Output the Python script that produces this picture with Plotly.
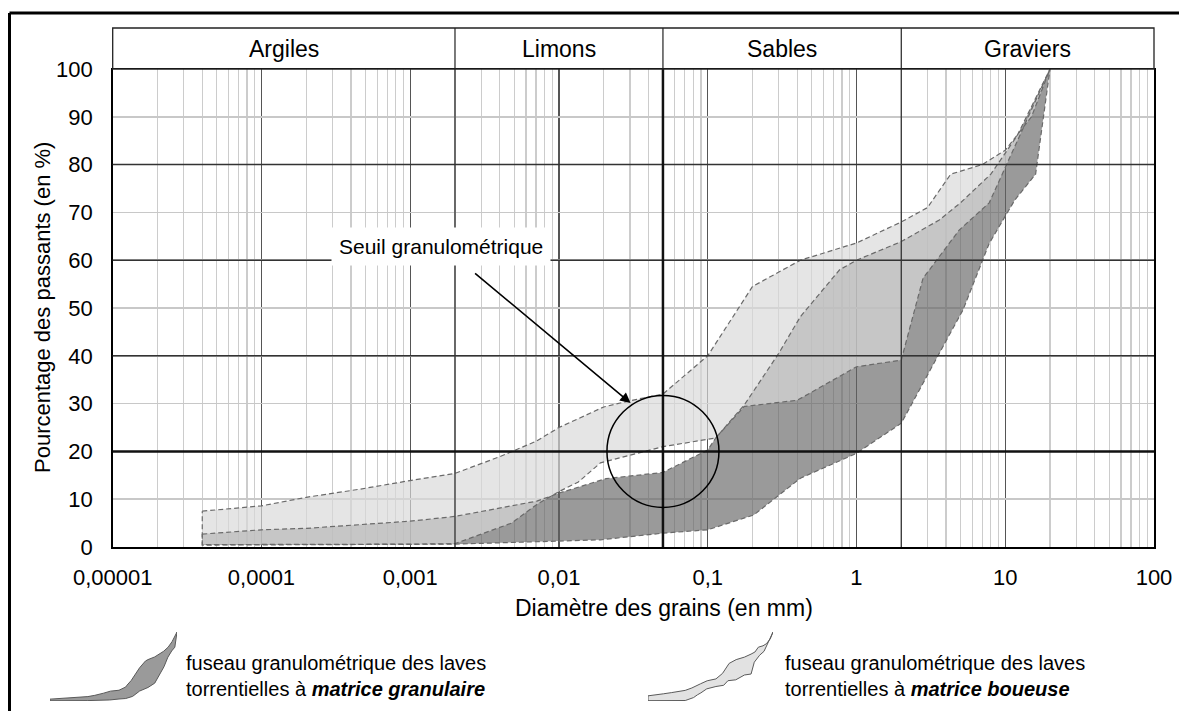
import math
import plotly.graph_objects as go

W, H = 1179, 711
FONT = "Liberation Sans, Arial, sans-serif"

# Fuseau des laves torrentielles a matrice boueuse (bornes sup. et inf.)
bou_sup_d = [4e-5, 1e-4, 2e-4, 4.6e-4, 1e-3, 2e-3, 4e-3, 7e-3, 0.01, 0.02, 0.03,
             0.05, 0.1, 0.2, 0.42, 1, 2, 3, 4.3, 7, 10, 15, 20]
bou_sup_p = [7.5, 8.6, 10.4, 12.1, 13.9, 15.4, 18.9, 22.1, 25, 29.3, 30.6,
             32, 40, 54.5, 60, 63.6, 68, 71, 78, 80, 83, 90, 100]
bou_inf_d = [4e-5, 1e-3, 2e-3, 4.8e-3, 7.1e-3, 0.0103, 0.0135, 0.019, 0.05,
             0.113, 0.176, 0.4, 1, 2, 2.8, 4.9, 7.8, 20]
bou_inf_p = [0.5, 0.6, 0.7, 5, 8.9, 11.8, 13.6, 17.6, 21,
             22.8, 29.4, 30.7, 37.7, 39.1, 56.2, 66.3, 72, 100]

# Fuseau des laves torrentielles a matrice granulaire
gra_sup_d = [4e-5, 1e-4, 2e-4, 4.6e-4, 1e-3, 2e-3, 4.1e-3, 7.1e-3, 0.0103, 0.0207,
             0.05, 0.1, 0.113, 0.176, 0.3, 0.42, 0.77, 1, 2, 3.6, 5, 8, 12, 20]
gra_sup_p = [2.7, 3.6, 3.9, 4.6, 5.4, 6.4, 8.2, 9.6, 11.4, 14.3,
             15.6, 20.3, 22.8, 29.7, 40.5, 48.2, 58, 60, 63.9, 68.4, 72, 78, 86, 100]
gra_inf_d = [4e-5, 2e-3, 0.019, 0.05, 0.1, 0.204, 0.42, 1, 2, 3.6, 5.2, 7.8, 11.6, 16, 20]
gra_inf_p = [0.4, 0.6, 1.5, 2.9, 3.6, 6.7, 14.4, 19.6, 25.9, 40.5, 49.6, 63.5, 72.6, 78, 100]

classes = ["Argiles", "Limons", "Sables", "Graviers"]
limites = [1e-5, 0.002, 0.05, 2, 100]
x_ticks = [1e-5, 1e-4, 1e-3, 1e-2, 0.1, 1, 10, 100]
x_labels = ["0,00001", "0,0001", "0,001", "0,01", "0,1", "1", "10", "100"]
y_ticks = list(range(0, 101, 10))

seuil_d = 0.05
seuil_p = 20
fleche_d = 0.0303
fleche_p = 30.1

# Graduations secondaires : 2 a 9 dans chaque decade
x_minor = [k * d for d in x_ticks[:-1] for k in range(2, 10)]

# Zone de trace en pixels
PX0, PX1, PY0, PY1 = 112.7, 1154, 547, 69
xdom = [PX0 / W, PX1 / W]
ydom = [1 - PY0 / H, 1 - PY1 / H]
px_dec = (PX1 - PX0) / 7.0
px_pct = (PY0 - PY1) / 100.0


def band(d_up, p_up, d_lo, p_lo):
    x = list(d_up) + list(d_lo[::-1]) + [d_up[0]]
    y = list(p_up) + list(p_lo[::-1]) + [p_up[0]]
    return x, y


gx, gy = band(gra_sup_d, gra_sup_p, gra_inf_d, gra_inf_p)
bx, by = band(bou_sup_d, bou_sup_p, bou_inf_d, bou_inf_p)

fig = go.Figure()

# Remplissages
fig.add_trace(go.Scatter(x=gx, y=gy, mode="lines", fill="toself",
                         fillcolor="rgba(100,100,100,0.65)",
                         line=dict(width=0), hoverinfo="skip"))
fig.add_trace(go.Scatter(x=bx, y=by, mode="lines", fill="toself",
                         fillcolor="rgba(218,218,218,0.69)",
                         line=dict(width=0), hoverinfo="skip"))
# Contours en tirets
for xs, ys in [(gx, gy), (bx, by)]:
    fig.add_trace(go.Scatter(x=xs, y=ys, mode="lines",
                             line=dict(color="#6a6a6a", width=1.2, dash="5px,3px"),
                             hoverinfo="skip"))

# Pictogrammes de legende (fuseaux en miniature)
icons = [
    ("x2", "y2", gx, gy, "#9a9a9a"),
    ("x3", "y3", bx, by, "#e2e2e2"),
]
for xa, ya, xs, ys, col in icons:
    fig.add_trace(go.Scatter(x=xs, y=ys, xaxis=xa, yaxis=ya, mode="lines",
                             fill="toself", fillcolor=col,
                             line=dict(color="#5a5a5a", width=1), hoverinfo="skip"))

# Axes
fig.update_layout(
    width=W, height=H,
    margin=dict(l=0, r=0, t=0, b=0, autoexpand=False),
    paper_bgcolor="white", plot_bgcolor="white",
    showlegend=False,
    font=dict(family=FONT, color="black"),
    xaxis=dict(type="log", domain=xdom, range=[-5, 2], automargin=False,
               tickvals=x_ticks, ticktext=x_labels,
               tickfont=dict(size=22), ticklabelstandoff=10,
               showgrid=True, gridcolor="#555555", gridwidth=1.2,
               minor=dict(tickmode="array", tickvals=x_minor, showgrid=True,
                          gridcolor="#cccccc", gridwidth=1.2),
               showline=True, linecolor="black", linewidth=1.5, mirror=True,
               zeroline=False, fixedrange=True),
    yaxis=dict(domain=ydom, range=[0, 100], tickvals=y_ticks, automargin=False,
               tickfont=dict(size=22), ticklabelstandoff=14,
               showgrid=True, gridcolor="#c8c8c8", gridwidth=1.5,
               showline=True, linecolor="black", linewidth=1.5, mirror=True,
               zeroline=False, fixedrange=True),
    xaxis2=dict(type="log", domain=[50 / W, 177 / W], anchor="y2", automargin=False,
                range=[math.log10(gra_sup_d[0]), math.log10(20)], visible=False),
    yaxis2=dict(domain=[1 - 701 / H, 1 - 632 / H], anchor="x2", automargin=False,
                range=[0, 100], visible=False),
    xaxis3=dict(type="log", domain=[648 / W, 773 / W], anchor="y3", automargin=False,
                range=[math.log10(bou_sup_d[0]), math.log10(20)], visible=False),
    yaxis3=dict(domain=[1 - 701 / H, 1 - 632 / H], anchor="x3", automargin=False,
                range=[0, 100], visible=False),
)

shapes = []
# Lignes principales horizontales
for p in [40, 60, 80]:
    shapes.append(dict(type="line", xref="paper", yref="y", x0=xdom[0], x1=xdom[1],
                       y0=p, y1=p, line=dict(color="#333333", width=1.5), layer="above"))
# Limites de classes
for d in [limites[1], limites[3]]:
    shapes.append(dict(type="line", xref="x", yref="paper", x0=d, x1=d,
                       y0=ydom[0], y1=ydom[1], line=dict(color="#333333", width=1.3),
                       layer="above"))
# Seuil granulometrique
shapes.append(dict(type="line", xref="x", yref="paper", x0=seuil_d, x1=seuil_d,
                   y0=ydom[0], y1=ydom[1], line=dict(color="#111111", width=2.5),
                   layer="above"))
shapes.append(dict(type="line", xref="paper", yref="y", x0=xdom[0], x1=xdom[1],
                   y0=seuil_p, y1=seuil_p, line=dict(color="#111111", width=2.5),
                   layer="above"))
r_px = 56
r_dec = r_px / px_dec
r_pct = r_px / px_pct
shapes.append(dict(type="circle", xref="x", yref="y",
                   x0=seuil_d / 10 ** r_dec, x1=seuil_d * 10 ** r_dec,
                   y0=seuil_p - r_pct, y1=seuil_p + r_pct,
                   line=dict(color="black", width=1.5)))

# Bandeau des classes
hy0, hy1 = ydom[1], 1 - 28 / H
shapes.append(dict(type="rect", xref="paper", yref="paper", x0=xdom[0], x1=xdom[1],
                   y0=hy0, y1=hy1, line=dict(color="#222222", width=1.3)))
for d in limites[1:-1]:
    shapes.append(dict(type="line", xref="x", yref="paper", x0=d, x1=d,
                       y0=hy0, y1=hy1, line=dict(color="#222222", width=1.2)))

# Cadre
fy = 1 - 13 / H
fx = 9.5 / W
shapes.append(dict(type="line", xref="paper", yref="paper", x0=fx, x1=1,
                   y0=fy, y1=fy, line=dict(color="black", width=3)))
shapes.append(dict(type="line", xref="paper", yref="paper", x0=fx, x1=fx,
                   y0=0, y1=fy, line=dict(color="black", width=3)))

fig.update_layout(shapes=shapes)

ann = []
for name, lo, hi in zip(classes, limites[:-1], limites[1:]):
    ann.append(dict(text=name, xref="x", yref="paper",
                    x=(math.log10(lo) + math.log10(hi)) / 2, y=(hy0 + hy1) / 2,
                    xanchor="center", yanchor="middle",
                    showarrow=False, font=dict(size=23)))

ann.append(dict(text="Pourcentage des passants (en %)", xref="paper", yref="paper",
                x=42 / W, y=(ydom[0] + ydom[1]) / 2, textangle=-90,
                xanchor="center", yanchor="middle",
                showarrow=False, font=dict(size=22)))
ann.append(dict(text="Diamètre des grains (en mm)", xref="paper", yref="paper",
                x=664 / W, y=1 - 608 / H, xanchor="center", yanchor="middle",
                showarrow=False, font=dict(size=23)))

# Seuil granulometrique : etiquette et fleche
ann.append(dict(text="Seuil granulométrique", xref="paper", yref="paper",
                x=441 / W, y=1 - 246 / H, xanchor="center", yanchor="middle",
                showarrow=False, bgcolor="white", borderpad=7, font=dict(size=21)))
ann.append(dict(text="", xref="x", yref="y", x=math.log10(fleche_d), y=fleche_p,
                ax=-157, ay=-131, showarrow=True, arrowhead=2, arrowsize=1.3,
                arrowwidth=1.6, arrowcolor="black"))

# Legende
leg_txt = "fuseau granulométrique des laves<br>torrentielles à <b><i>{}</i></b>"
ann.append(dict(text=leg_txt.format("matrice granulaire"), xref="paper", yref="paper",
                x=184 / W, y=1 - 676 / H, xanchor="left", yanchor="middle", align="left",
                showarrow=False, font=dict(size=20)))
ann.append(dict(text=leg_txt.format("matrice boueuse"), xref="paper", yref="paper",
                x=783 / W, y=1 - 676 / H, xanchor="left", yanchor="middle", align="left",
                showarrow=False, font=dict(size=20)))

fig.update_layout(annotations=ann)

# La page est photographiee a 1179x711 : pas de marge autour du graphique
fig.write_html("out.html",
               config={"displayModeBar": False, "staticPlot": True},
               post_script="document.body.style.margin='0';"
                           "document.body.style.overflow='hidden';")
